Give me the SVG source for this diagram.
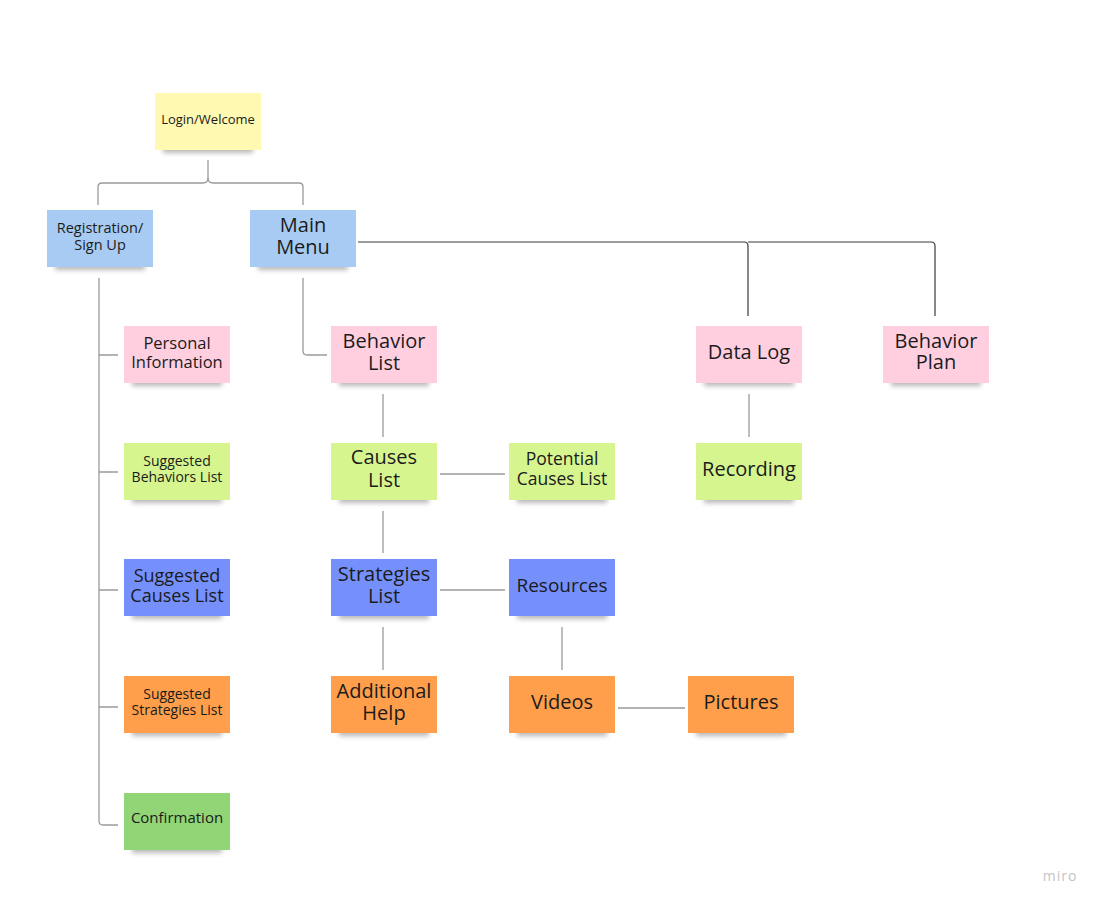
<svg xmlns="http://www.w3.org/2000/svg" width="1103" height="906" viewBox="0 0 1103 906">
<style>
.note{stroke:none}
.sh{fill:#000;opacity:.28;filter:url(#blur)}
.y{fill:#fff9b1}.b{fill:#a8cbf3}.p{fill:#ffcfe0}.lg{fill:#d6f58f}.db{fill:#7590fb}.o{fill:#ff9e4b}.g{fill:#92d577}
text{font-family:"Open Sans","Noto Sans",sans-serif;fill:#1b1b1b;text-anchor:middle}
.c{fill:none;stroke:#9a9a9a;stroke-width:1.3}
.cd{fill:none;stroke:#3a3a3a;stroke-width:1.2}
</style>
<defs>
<filter id="blur" x="-20%" y="-100%" width="140%" height="300%"><feGaussianBlur stdDeviation="2.5"/></filter>
</defs>
<rect width="1103" height="906" fill="#ffffff"/>
<g id="connectors">
<path class="c" d="M208,160 V178 Q208,183 203,183 H102 Q98,183 98,187 V205"/>
<path class="c" d="M208,178 Q208,183 213,183 H299 Q303,183 303,187 V205"/>
<path class="c" d="M99,278 V821 Q99,825 103,825 H118"/>
<path class="c" d="M99,355 H118 M99,472 H118 M99,590 H118 M99,707 H118"/>
<path class="c" d="M303,278 V351 Q303,355 307,355 H327"/>
<path class="cd" d="M358,242 H744 Q748,242 748,246 V316"/>
<path class="cd" d="M748,242 H931 Q935,242 935,246 V316"/>
<path class="c" d="M383,394 V437"/>
<path class="c" d="M440,474 H505"/>
<path class="c" d="M383,511 V553"/>
<path class="c" d="M440,590 H505"/>
<path class="c" d="M383,627 V670"/>
<path class="c" d="M562,627 V670"/>
<path class="c" d="M618,708 H685"/>
<path class="c" d="M749,394 V437"/>
</g>
<g id="login"><rect class="sh" x="163" y="143" width="90" height="10"/><rect class="note y" x="155" y="93" width="106" height="57"/><text x="208" y="124" font-size="13">Login/Welcome</text></g>
<g id="registration"><rect class="sh" x="55" y="260" width="90" height="10"/><rect class="note b" x="47" y="210" width="106" height="57"/><text x="100" y="233" font-size="14.5">Registration/<tspan x="100" y="250">Sign Up</tspan></text></g>
<g id="main-menu"><rect class="sh" x="258" y="260" width="90" height="10"/><rect class="note b" x="250" y="210" width="106" height="57"/><text x="303" y="232" font-size="20">Main<tspan x="303" y="254">Menu</tspan></text></g>
<g id="personal-information"><rect class="sh" x="132" y="376" width="90" height="10"/><rect class="note p" x="124" y="326" width="106" height="57"/><text x="177" y="349" font-size="16.5">Personal<tspan x="177" y="368">Information</tspan></text></g>
<g id="behavior-list"><rect class="sh" x="339" y="376" width="90" height="10"/><rect class="note p" x="331" y="326" width="106" height="57"/><text x="384" y="348" font-size="20">Behavior<tspan x="384" y="370">List</tspan></text></g>
<g id="data-log"><rect class="sh" x="704" y="376" width="90" height="10"/><rect class="note p" x="696" y="326" width="106" height="57"/><text x="749" y="359" font-size="20">Data Log</text></g>
<g id="behavior-plan"><rect class="sh" x="891" y="376" width="90" height="10"/><rect class="note p" x="883" y="326" width="106" height="57"/><text x="936" y="348" font-size="20">Behavior<tspan x="936" y="369">Plan</tspan></text></g>
<g id="suggested-behaviors"><rect class="sh" x="132" y="493" width="90" height="10"/><rect class="note lg" x="124" y="443" width="106" height="57"/><text x="177" y="466" font-size="14">Suggested<tspan x="177" y="482">Behaviors List</tspan></text></g>
<g id="causes-list"><rect class="sh" x="339" y="493" width="90" height="10"/><rect class="note lg" x="331" y="443" width="106" height="57"/><text x="384" y="464" font-size="20">Causes<tspan x="384" y="487">List</tspan></text></g>
<g id="potential-causes"><rect class="sh" x="517" y="493" width="90" height="10"/><rect class="note lg" x="509" y="443" width="106" height="57"/><text x="562" y="465" font-size="17.5">Potential<tspan x="562" y="485">Causes List</tspan></text></g>
<g id="recording"><rect class="sh" x="704" y="493" width="90" height="10"/><rect class="note lg" x="696" y="443" width="106" height="57"/><text x="749" y="476" font-size="20">Recording</text></g>
<g id="suggested-causes"><rect class="sh" x="132" y="609" width="90" height="10"/><rect class="note db" x="124" y="559" width="106" height="57"/><text x="177" y="582" font-size="18">Suggested<tspan x="177" y="602">Causes List</tspan></text></g>
<g id="strategies-list"><rect class="sh" x="339" y="609" width="90" height="10"/><rect class="note db" x="331" y="559" width="106" height="57"/><text x="384" y="581" font-size="20">Strategies<tspan x="384" y="603">List</tspan></text></g>
<g id="resources"><rect class="sh" x="517" y="609" width="90" height="10"/><rect class="note db" x="509" y="559" width="106" height="57"/><text x="562" y="592" font-size="19">Resources</text></g>
<g id="suggested-strategies"><rect class="sh" x="132" y="726" width="90" height="10"/><rect class="note o" x="124" y="676" width="106" height="57"/><text x="177" y="699" font-size="14">Suggested<tspan x="177" y="715">Strategies List</tspan></text></g>
<g id="additional-help"><rect class="sh" x="339" y="726" width="90" height="10"/><rect class="note o" x="331" y="676" width="106" height="57"/><text x="384" y="698" font-size="20">Additional<tspan x="384" y="720">Help</tspan></text></g>
<g id="videos"><rect class="sh" x="517" y="726" width="90" height="10"/><rect class="note o" x="509" y="676" width="106" height="57"/><text x="562" y="709" font-size="20">Videos</text></g>
<g id="pictures"><rect class="sh" x="696" y="726" width="90" height="10"/><rect class="note o" x="688" y="676" width="106" height="57"/><text x="741" y="709" font-size="20">Pictures</text></g>
<g id="confirmation"><rect class="sh" x="132" y="843" width="90" height="10"/><rect class="note g" x="124" y="793" width="106" height="57"/><text x="177" y="823" font-size="15">Confirmation</text></g>
<text x="1060" y="881" font-size="14" style="fill:#c4c4c4;letter-spacing:1px">miro</text>
</svg>
